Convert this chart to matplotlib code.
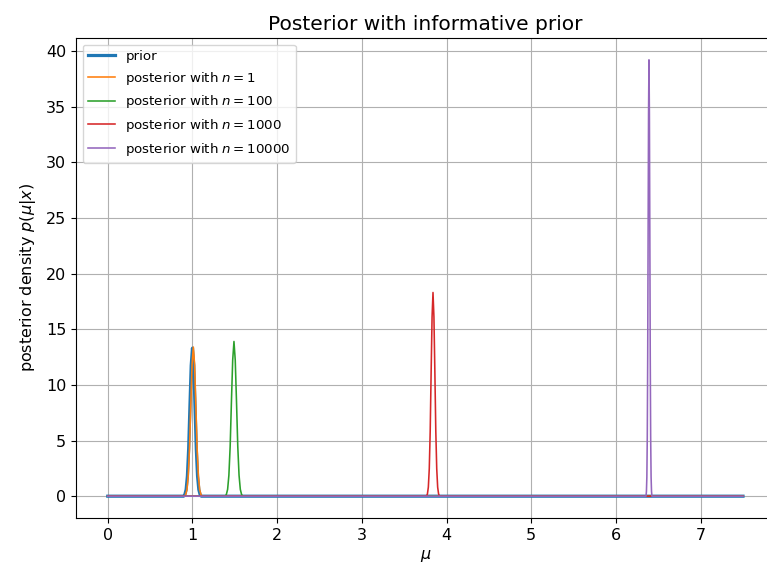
import numpy as np
import matplotlib.pyplot as plt

# curves (mu, density), baseline at 0 from 0 to 7.5
prior_x = [0, 0.895, 0.91, 0.925, 0.94, 0.955, 0.97, 0.985, 1.0, 1.015, 1.03, 1.045, 1.06, 1.075, 1.09, 1.105, 7.5]
prior_y = [0, 0, 0.15, 0.59, 1.80, 4.26, 8.07, 11.74, 13.3, 11.74, 8.07, 4.26, 1.80, 0.59, 0.15, 0, 0]

n1_x = [0, 0.905, 0.92, 0.935, 0.95, 0.965, 0.98, 0.995, 1.01, 1.025, 1.04, 1.055, 1.07, 1.085, 1.10, 1.115, 7.5]
n1_y = [0, 0, 0.15, 0.59, 1.81, 4.29, 8.13, 11.83, 13.4, 11.83, 8.13, 4.29, 1.81, 0.59, 0.15, 0, 0]

n100_x = [0, 1.385, 1.40, 1.415, 1.43, 1.445, 1.46, 1.475, 1.49, 1.505, 1.52, 1.535, 1.55, 1.565, 1.58, 1.595, 7.5]
n100_y = [0, 0, 0.15, 0.61, 1.88, 4.45, 8.48, 12.23, 13.9, 12.23, 8.48, 4.45, 1.88, 0.61, 0.15, 0, 0]

n1000_x = [0, 3.763, 3.774, 3.785, 3.796, 3.807, 3.818, 3.829, 3.84, 3.851, 3.862, 3.873, 3.884, 3.895, 3.906, 3.917, 7.5]
n1000_y = [0, 0, 0.20, 0.81, 2.47, 5.86, 11.16, 16.10, 18.3, 16.10, 11.16, 5.86, 2.47, 0.81, 0.20, 0, 0]

n10000_x = [0, 6.355, 6.36, 6.365, 6.37, 6.375, 6.38, 6.385, 6.39, 6.395, 6.40, 6.405, 6.41, 6.415, 6.42, 6.425, 7.5]
n10000_y = [0, 0, 0.43, 1.72, 5.28, 12.51, 23.85, 34.41, 39.2, 34.41, 23.85, 12.51, 5.28, 1.72, 0.43, 0, 0]

labels = ["prior", "posterior with $n = 1$", "posterior with $n = 100$",
          "posterior with $n = 1000$", "posterior with $n = 10000$"]


def main():
  plt.rcParams['font.size'] = 11.5
  fig = plt.figure(figsize=(7.67, 5.71), dpi=100)
  ax = fig.add_axes([0.0991, 0.0928, 0.911, 0.8406])   # right spine falls off the picture, as in the reference

  ax.plot(prior_x, prior_y, lw=2.3, label=labels[0])
  ax.plot(n1_x, n1_y, lw=1.15, label=labels[1])
  ax.plot(n100_x, n100_y, lw=1.15, label=labels[2])
  ax.plot(n1000_x, n1000_y, lw=1.15, label=labels[3])
  ax.plot(n10000_x, n10000_y, lw=1.15, label=labels[4])

  ax.set_title("Posterior with informative prior", fontsize=14.5)
  ax.set_xlabel(r"$\mu$")
  ax.set_ylabel(r"posterior density $p(\mu|x)$", labelpad=6)
  ax.grid(True)
  ax.legend(loc="upper left", fontsize=9.6)

  fig.savefig("out.png", dpi=100)


if __name__ == '__main__':
  main()
